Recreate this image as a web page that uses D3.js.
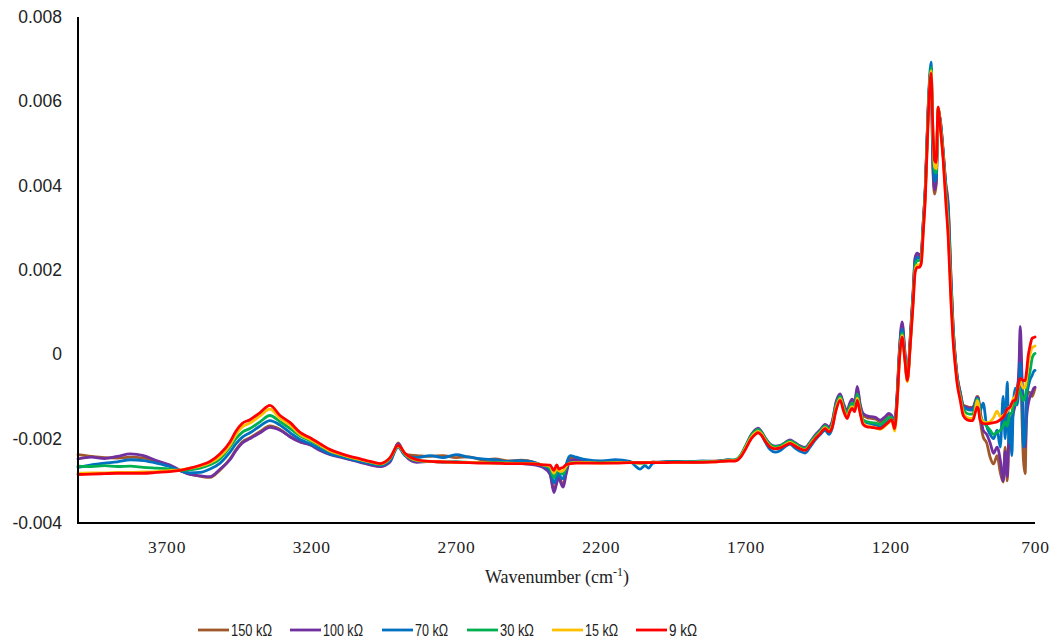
<!DOCTYPE html>
<html>
<head>
<meta charset="utf-8">
<script src="https://cdn.jsdelivr.net/npm/d3@7"></script>
<style>
  html, body { margin: 0; padding: 0; background: #fff; }
  svg { display: block; }
</style>
</head>
<body>
<svg id="chart" width="1055" height="643"></svg>
<script>
// ---------------- DATA ----------------
const wavenumbers = [
  4006, 3960, 3915, 3870, 3825, 3780, 3735, 3690, 3653, 3619, 3584, 3550, 3515, 3481, 3460, 3439, 3412, 3377, 3343, 3308, 3273, 3239, 3204, 3170, 3135, 3100, 3066, 3031, 2997, 2962, 2928, 2900, 2876, 2835, 2790, 2745, 2700, 2655, 2610, 2565, 2520, 2475, 2430,
  2400, 2375, 2362, 2352, 2345, 2338, 2330, 2320, 2306, 2285, 2250, 2200, 2150, 2100, 2064, 2047, 2035, 2020, 1995, 1950, 1900, 1850, 1800, 1760,
  1736, 1715, 1700, 1680, 1665, 1656, 1645, 1630, 1615, 1598, 1580, 1565, 1546, 1530, 1512, 1494, 1477, 1459, 1442, 1425, 1412, 1401, 1387, 1373, 1361, 1349, 1340, 1332, 1323, 1314, 1304, 1294, 1280, 1265, 1250, 1235, 1218, 1205,
  1195, 1185, 1176, 1168, 1159, 1150, 1141, 1131, 1121, 1114, 1107, 1100, 1093, 1086, 1079, 1069, 1059, 1053, 1047, 1041, 1035, 1026, 1017, 1008, 1000, 990, 983, 975, 969, 958, 948, 935, 924, 915, 907, 900, 896, 890, 879, 867, 855, 843, 831, 820, 810, 803, 796, 790, 786, 780, 775, 768, 762, 755, 751, 745, 740, 734, 729, 724, 717, 710, 704, 700
];

const series150 = [
  -0.00238,-0.00242,-0.00245,-0.00246,-0.00244,-0.00246,-0.00254,-0.00264,-0.00276,-0.00284,-0.00289,-0.00292,-0.00274,-0.00248,-0.00226,-0.00208,-0.00198,-0.00183,-0.00170,-0.00178,-0.00195,-0.00207,-0.00214,-0.00226,-0.00236,-0.00242,-0.00249,-0.00255,-0.00261,-0.00265,-0.00253,-0.00210,-0.00238,-0.00240,-0.00242,-0.00240,-0.00245,-0.00243,-0.00250,-0.00248,-0.00253,-0.00251,-0.00256,
  -0.00266,-0.00282,-0.00322,-0.00300,-0.00288,-0.00300,-0.00310,-0.00280,-0.00245,-0.00246,-0.00252,-0.00254,-0.00252,-0.00255,-0.00258,-0.00256,-0.00257,-0.00255,-0.00256,-0.00254,-0.00255,-0.00254,-0.00253,-0.00251,
  -0.00252,-0.00239,-0.00220,-0.00192,-0.00180,-0.00177,-0.00185,-0.00202,-0.00215,-0.00220,-0.00218,-0.00212,-0.00205,-0.00211,-0.00219,-0.00223,-0.00210,-0.00193,-0.00181,-0.00168,-0.00174,-0.00163,-0.00116,-0.00097,-0.00121,-0.00137,-0.00120,-0.00110,-0.00118,-0.00082,-0.00122,-0.00144,-0.00150,-0.00152,-0.00154,-0.00160,-0.00152,-0.00144,
  -0.00146,-0.00167,-0.00093,0.00012,0.00070,0.00008,-0.00058,0.00038,0.00146,0.00226,0.00234,0.00232,0.00236,0.00312,0.00392,0.00580,0.00672,0.00450,0.00380,0.00405,0.00578,0.00550,0.00480,0.00405,0.00360,0.00180,0.00068,-0.00010,-0.00050,-0.00090,-0.00120,-0.00124,-0.00126,-0.00126,-0.00113,-0.00100,-0.00102,-0.00150,-0.00196,-0.00210,-0.00244,-0.00260,-0.00240,-0.00280,-0.00303,-0.00220,-0.00300,-0.00200,-0.00150,-0.00180,-0.00120,-0.00100,-0.00080,-0.00050,0.00040,-0.00150,-0.00250,-0.00283,-0.00120,-0.00090,-0.00090,-0.00100,-0.00090,-0.00080
];

const series100 = [
  -0.00248,-0.00244,-0.00247,-0.00242,-0.00236,-0.00240,-0.00252,-0.00262,-0.00275,-0.00285,-0.00288,-0.00290,-0.00272,-0.00250,-0.00228,-0.00211,-0.00200,-0.00186,-0.00173,-0.00180,-0.00196,-0.00208,-0.00215,-0.00228,-0.00238,-0.00244,-0.00250,-0.00256,-0.00262,-0.00266,-0.00255,-0.00212,-0.00240,-0.00256,-0.00254,-0.00256,-0.00255,-0.00257,-0.00256,-0.00258,-0.00257,-0.00259,-0.00262,
  -0.00268,-0.00285,-0.00328,-0.00305,-0.00290,-0.00305,-0.00315,-0.00285,-0.00252,-0.00250,-0.00255,-0.00256,-0.00255,-0.00256,-0.00258,-0.00257,-0.00256,-0.00256,-0.00256,-0.00255,-0.00256,-0.00255,-0.00254,-0.00252,
  -0.00251,-0.00238,-0.00218,-0.00190,-0.00178,-0.00175,-0.00183,-0.00200,-0.00213,-0.00218,-0.00216,-0.00210,-0.00203,-0.00209,-0.00217,-0.00221,-0.00208,-0.00191,-0.00179,-0.00166,-0.00172,-0.00160,-0.00112,-0.00094,-0.00118,-0.00134,-0.00116,-0.00106,-0.00114,-0.00076,-0.00118,-0.00140,-0.00146,-0.00148,-0.00150,-0.00156,-0.00148,-0.00140,
  -0.00145,-0.00165,-0.00090,0.00015,0.00077,0.00010,-0.00058,0.00040,0.00150,0.00230,0.00240,0.00236,0.00240,0.00315,0.00395,0.00585,0.00680,0.00460,0.00390,0.00410,0.00578,0.00548,0.00478,0.00400,0.00350,0.00175,0.00065,-0.00012,-0.00052,-0.00092,-0.00122,-0.00126,-0.00128,-0.00128,-0.00115,-0.00102,-0.00104,-0.00130,-0.00180,-0.00190,-0.00210,-0.00235,-0.00220,-0.00250,-0.00300,-0.00230,-0.00290,-0.00200,-0.00210,-0.00160,-0.00140,-0.00120,-0.00100,-0.00020,0.00066,-0.00050,-0.00150,-0.00220,-0.00150,-0.00120,-0.00100,-0.00090,-0.00080,-0.00078
];

const series70 = [
  -0.00268,-0.00262,-0.00258,-0.00255,-0.00250,-0.00252,-0.00258,-0.00266,-0.00276,-0.00281,-0.00280,-0.00272,-0.00258,-0.00232,-0.00212,-0.00197,-0.00186,-0.00170,-0.00157,-0.00168,-0.00186,-0.00202,-0.00212,-0.00224,-0.00236,-0.00242,-0.00248,-0.00254,-0.00259,-0.00263,-0.00252,-0.00220,-0.00240,-0.00245,-0.00240,-0.00245,-0.00238,-0.00244,-0.00248,-0.00250,-0.00254,-0.00252,-0.00256,
  -0.00264,-0.00275,-0.00305,-0.00290,-0.00280,-0.00292,-0.00295,-0.00262,-0.00240,-0.00244,-0.00250,-0.00253,-0.00250,-0.00254,-0.00272,-0.00264,-0.00270,-0.00258,-0.00255,-0.00254,-0.00255,-0.00253,-0.00254,-0.00250,
  -0.00252,-0.00240,-0.00220,-0.00194,-0.00183,-0.00180,-0.00190,-0.00210,-0.00226,-0.00232,-0.00228,-0.00220,-0.00213,-0.00222,-0.00230,-0.00234,-0.00220,-0.00203,-0.00190,-0.00180,-0.00190,-0.00176,-0.00126,-0.00103,-0.00127,-0.00143,-0.00128,-0.00118,-0.00126,-0.00098,-0.00132,-0.00158,-0.00162,-0.00165,-0.00168,-0.00172,-0.00163,-0.00154,
  -0.00148,-0.00170,-0.00100,0.00005,0.00060,0.00000,-0.00060,0.00030,0.00140,0.00218,0.00230,0.00228,0.00235,0.00310,0.00392,0.00585,0.00693,0.00480,0.00410,0.00420,0.00580,0.00545,0.00475,0.00395,0.00340,0.00165,0.00060,-0.00015,-0.00055,-0.00095,-0.00125,-0.00130,-0.00132,-0.00132,-0.00118,-0.00104,-0.00108,-0.00135,-0.00116,-0.00170,-0.00190,-0.00200,-0.00180,-0.00220,-0.00100,-0.00200,-0.00066,-0.00210,-0.00150,-0.00240,-0.00120,-0.00080,-0.00120,-0.00070,-0.00020,-0.00100,-0.00220,-0.00200,-0.00100,-0.00080,-0.00060,-0.00050,-0.00040,-0.00038
];

const series30 = [
  -0.00265,-0.00266,-0.00264,-0.00266,-0.00265,-0.00268,-0.00270,-0.00272,-0.00276,-0.00274,-0.00270,-0.00262,-0.00248,-0.00220,-0.00200,-0.00185,-0.00176,-0.00160,-0.00145,-0.00160,-0.00176,-0.00193,-0.00205,-0.00217,-0.00230,-0.00238,-0.00245,-0.00250,-0.00256,-0.00261,-0.00247,-0.00218,-0.00238,-0.00252,-0.00254,-0.00255,-0.00255,-0.00256,-0.00257,-0.00256,-0.00258,-0.00258,-0.00259,
  -0.00263,-0.00270,-0.00292,-0.00278,-0.00276,-0.00282,-0.00284,-0.00268,-0.00257,-0.00256,-0.00256,-0.00257,-0.00256,-0.00256,-0.00258,-0.00258,-0.00257,-0.00256,-0.00256,-0.00255,-0.00255,-0.00255,-0.00254,-0.00251,
  -0.00250,-0.00237,-0.00218,-0.00192,-0.00181,-0.00178,-0.00185,-0.00201,-0.00214,-0.00219,-0.00217,-0.00211,-0.00205,-0.00211,-0.00219,-0.00223,-0.00210,-0.00194,-0.00182,-0.00170,-0.00177,-0.00166,-0.00120,-0.00100,-0.00124,-0.00140,-0.00124,-0.00115,-0.00122,-0.00094,-0.00128,-0.00155,-0.00160,-0.00162,-0.00163,-0.00166,-0.00158,-0.00150,
  -0.00150,-0.00172,-0.00105,0.00000,0.00050,-0.00005,-0.00060,0.00025,0.00135,0.00210,0.00222,0.00222,0.00228,0.00305,0.00385,0.00575,0.00680,0.00520,0.00435,0.00430,0.00583,0.00540,0.00470,0.00385,0.00310,0.00150,0.00050,-0.00020,-0.00060,-0.00100,-0.00130,-0.00140,-0.00142,-0.00142,-0.00125,-0.00106,-0.00110,-0.00140,-0.00160,-0.00170,-0.00180,-0.00190,-0.00185,-0.00180,-0.00170,-0.00160,-0.00170,-0.00150,-0.00140,-0.00140,-0.00120,-0.00120,-0.00100,-0.00080,-0.00090,-0.00100,-0.00110,-0.00100,-0.00080,-0.00060,-0.00040,-0.00010,0.00000,0.00002
];

const series15 = [
  -0.00282,-0.00281,-0.00281,-0.00280,-0.00280,-0.00279,-0.00278,-0.00276,-0.00274,-0.00270,-0.00265,-0.00257,-0.00242,-0.00215,-0.00190,-0.00172,-0.00163,-0.00146,-0.00130,-0.00152,-0.00168,-0.00190,-0.00202,-0.00215,-0.00229,-0.00237,-0.00244,-0.00250,-0.00255,-0.00260,-0.00246,-0.00217,-0.00236,-0.00251,-0.00254,-0.00255,-0.00256,-0.00256,-0.00257,-0.00258,-0.00258,-0.00259,-0.00259,
  -0.00262,-0.00266,-0.00282,-0.00270,-0.00276,-0.00278,-0.00276,-0.00265,-0.00258,-0.00257,-0.00257,-0.00258,-0.00257,-0.00257,-0.00258,-0.00257,-0.00257,-0.00257,-0.00256,-0.00256,-0.00256,-0.00255,-0.00255,-0.00252,
  -0.00252,-0.00240,-0.00222,-0.00197,-0.00186,-0.00183,-0.00189,-0.00205,-0.00218,-0.00223,-0.00221,-0.00215,-0.00209,-0.00215,-0.00223,-0.00227,-0.00214,-0.00198,-0.00186,-0.00174,-0.00182,-0.00171,-0.00128,-0.00105,-0.00131,-0.00148,-0.00132,-0.00124,-0.00132,-0.00104,-0.00136,-0.00163,-0.00170,-0.00172,-0.00174,-0.00178,-0.00170,-0.00161,
  -0.00155,-0.00182,-0.00115,-0.00008,0.00045,-0.00008,-0.00065,0.00022,0.00125,0.00200,0.00212,0.00212,0.00220,0.00295,0.00375,0.00565,0.00672,0.00530,0.00445,0.00440,0.00585,0.00535,0.00465,0.00370,0.00295,0.00135,0.00040,-0.00025,-0.00065,-0.00105,-0.00138,-0.00150,-0.00152,-0.00152,-0.00135,-0.00110,-0.00115,-0.00148,-0.00160,-0.00162,-0.00160,-0.00150,-0.00135,-0.00148,-0.00145,-0.00140,-0.00135,-0.00125,-0.00128,-0.00118,-0.00105,-0.00100,-0.00088,-0.00070,-0.00062,-0.00075,-0.00080,-0.00078,-0.00055,-0.00025,0.00000,0.00015,0.00018,0.00020
];

const series9 = [
  -0.00285,-0.00284,-0.00283,-0.00282,-0.00282,-0.00282,-0.00280,-0.00278,-0.00275,-0.00270,-0.00263,-0.00254,-0.00236,-0.00208,-0.00182,-0.00164,-0.00155,-0.00138,-0.00121,-0.00145,-0.00162,-0.00185,-0.00198,-0.00212,-0.00226,-0.00235,-0.00242,-0.00248,-0.00254,-0.00259,-0.00245,-0.00216,-0.00235,-0.00250,-0.00254,-0.00255,-0.00256,-0.00257,-0.00258,-0.00258,-0.00259,-0.00259,-0.00260,
  -0.00262,-0.00263,-0.00275,-0.00262,-0.00272,-0.00270,-0.00268,-0.00262,-0.00259,-0.00258,-0.00258,-0.00258,-0.00258,-0.00257,-0.00257,-0.00257,-0.00257,-0.00257,-0.00257,-0.00256,-0.00256,-0.00256,-0.00255,-0.00253,
  -0.00253,-0.00242,-0.00225,-0.00200,-0.00189,-0.00186,-0.00192,-0.00208,-0.00220,-0.00224,-0.00222,-0.00217,-0.00211,-0.00217,-0.00224,-0.00228,-0.00216,-0.00200,-0.00188,-0.00176,-0.00184,-0.00174,-0.00132,-0.00109,-0.00135,-0.00152,-0.00136,-0.00128,-0.00136,-0.00109,-0.00140,-0.00166,-0.00172,-0.00173,-0.00175,-0.00176,-0.00168,-0.00160,
  -0.00155,-0.00176,-0.00110,-0.00010,0.00041,-0.00010,-0.00062,0.00020,0.00120,0.00195,0.00206,0.00206,0.00215,0.00290,0.00370,0.00560,0.00667,0.00540,0.00460,0.00455,0.00587,0.00530,0.00460,0.00360,0.00280,0.00120,0.00033,-0.00030,-0.00069,-0.00110,-0.00145,-0.00155,-0.00157,-0.00157,-0.00140,-0.00125,-0.00128,-0.00155,-0.00164,-0.00165,-0.00164,-0.00162,-0.00160,-0.00155,-0.00149,-0.00140,-0.00130,-0.00127,-0.00125,-0.00115,-0.00110,-0.00109,-0.00090,-0.00065,-0.00057,-0.00060,-0.00062,-0.00062,-0.00040,-0.00006,0.00020,0.00038,0.00040,0.00041
];

const seriesNames = ["150 k\u03A9", "100 k\u03A9", "70 k\u03A9", "30 k\u03A9", "15 k\u03A9", "9 k\u03A9"];
const seriesValues = [series150, series100, series70, series30, series15, series9];
const seriesColors = ["#A0582A", "#7030A0", "#0070C0", "#00B050", "#FFC000", "#FF0000"];

const xTickValues = [3700, 3200, 2700, 2200, 1700, 1200, 700];
const yTickValues = [-0.004, -0.002, 0, 0.002, 0.004, 0.006, 0.008];
const yTickLabels = ["-0.004", "-0.002", "0", "0.002", "0.004", "0.006", "0.008"];
const xDomain = [4006, 700];
const yDomain = [-0.004, 0.008];

// ---------------- CHART ----------------
const svg = d3.select("#chart");
const plot = { left: 78, right: 1035, top: 17, bottom: 523 };

const x = d3.scaleLinear().domain(xDomain).range([plot.left, plot.right]);
const y = d3.scaleLinear().domain(yDomain).range([plot.bottom, plot.top]);

const line = d3.line()
  .x(d => x(d[0]))
  .y(d => y(d[1]))
  .curve(d3.curveMonotoneX);

const linesG = svg.append("g");
seriesValues.forEach((vals, i) => {
  const pts = wavenumbers.map((w, j) => [w, vals[j]]);
  linesG.append("path")
    .datum(pts)
    .attr("fill", "none")
    .attr("stroke", seriesColors[i])
    .attr("stroke-width", 2.8)
    .attr("stroke-linejoin", "round")
    .attr("stroke-linecap", "round")
    .attr("d", line);
});

// Y axis
const yAxis = d3.axisLeft(y)
  .tickValues(yTickValues)
  .tickSize(0)
  .tickPadding(16)
  .tickFormat((d, i) => yTickLabels[i]);
const yG = svg.append("g").attr("transform", `translate(${plot.left},0)`).call(yAxis);
yG.select(".domain").remove();
yG.selectAll("text")
  .attr("font-family", "'Liberation Sans', Arial, sans-serif")
  .attr("font-size", 17.5)
  .attr("fill", "#222");

// X axis
const xAxis = d3.axisBottom(x)
  .tickValues(xTickValues)
  .tickSize(0)
  .tickPadding(18)
  .tickFormat(d3.format("d"));
const xG = svg.append("g").attr("transform", `translate(0,${plot.bottom})`).call(xAxis);
xG.select(".domain").remove();
xG.selectAll("text")
  .attr("font-family", "'Liberation Serif', 'Times New Roman', serif")
  .attr("font-size", 17.5)
  .attr("letter-spacing", 0.8)
  .attr("fill", "#222");

// axis lines
svg.append("line")
  .attr("x1", plot.left).attr("x2", plot.left)
  .attr("y1", plot.top).attr("y2", plot.bottom + 1)
  .attr("stroke", "#000").attr("stroke-width", 2);
svg.append("line")
  .attr("x1", plot.left - 1).attr("x2", plot.right)
  .attr("y1", plot.bottom).attr("y2", plot.bottom)
  .attr("stroke", "#000").attr("stroke-width", 2);

// X axis title
const title = svg.append("text")
  .attr("x", 557).attr("y", 583)
  .attr("text-anchor", "middle")
  .attr("font-family", "'Liberation Serif', 'Times New Roman', serif")
  .attr("font-size", 18)
  .attr("fill", "#222");
title.append("tspan").text("Wavenumber (cm");
title.append("tspan").attr("dy", -7).attr("font-size", 12).text("-1");
title.append("tspan").attr("dy", 7).text(")");

const legendStarts = [198, 290, 382, 467, 552, 636];
const legendTextWidths = [41, 40, 33, 34, 33, 28];
const legendY = 630;
const legG = svg.append("g");
seriesNames.forEach((name, i) => {
  const x0 = legendStarts[i];
  legG.append("line")
    .attr("x1", x0).attr("x2", x0 + 31)
    .attr("y1", legendY).attr("y2", legendY)
    .attr("stroke", seriesColors[i]).attr("stroke-width", 2.8);
  legG.append("text")
    .attr("x", x0 + 33).attr("y", legendY)
    .attr("dy", "0.36em")
    .attr("font-family", "'Liberation Sans', Arial, sans-serif")
    .attr("font-size", 16.5)
    .attr("textLength", legendTextWidths[i])
    .attr("lengthAdjust", "spacingAndGlyphs")
    .attr("fill", "#222")
    .text(name);
});
</script>
</body>
</html>
